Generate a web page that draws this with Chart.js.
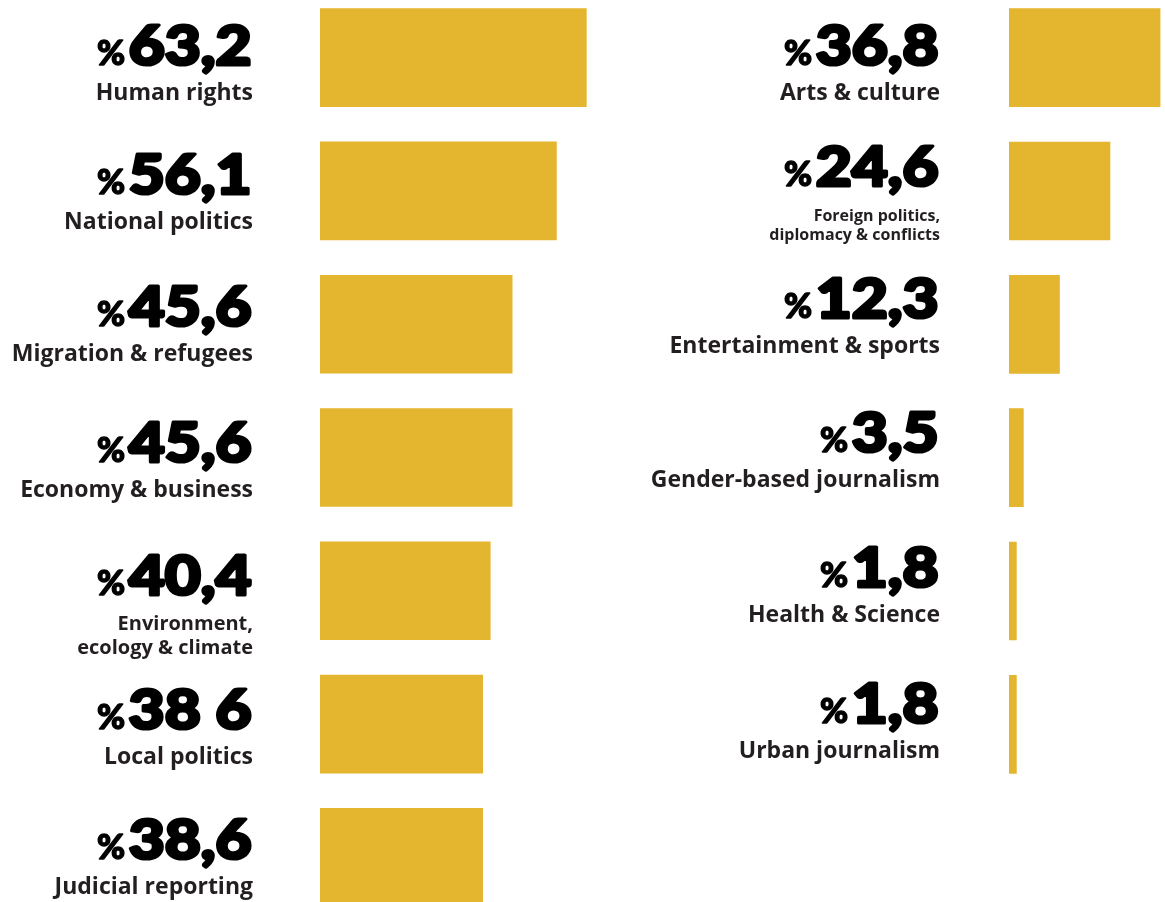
<!DOCTYPE html>
<html>
<head>
<meta charset="utf-8">
<title>Topics</title>
<script src="https://cdn.jsdelivr.net/npm/chart.js@4.4.1/dist/chart.umd.min.js"></script>
<style>
  html, body { margin: 0; padding: 0; background: #fff; overflow: hidden; }
  body { width: 1165px; height: 902px; position: relative; }
  .col { position: absolute; top: -9px; }
  #leftBox { left: 0; width: 615px; height: 933px; }
  #rightBox { left: 620px; width: 545px; height: 800px; }
</style>
</head>
<body>
<div class="col" id="leftBox"><canvas id="leftChart"></canvas></div>
<div class="col" id="rightBox"><canvas id="rightChart"></canvas></div>

<script>
// ===== DATA =====

const leftTopics = [
    'Human rights',
    'National politics',
    'Migration & refugees',
    'Economy & business',
    ['Environment,', 'ecology & climate'],
    'Local politics',
    'Judicial reporting'
];
const leftValues = [63.2, 56.1, 45.6, 45.6, 40.4, 38.6, 38.6];
const leftFigures = ['63,2', '56,1', '45,6', '45,6', '40,4', '38 6', '38,6'];

const rightTopics = [
    'Arts & culture',
    ['Foreign politics,', 'diplomacy & conflicts'],
    'Entertainment & sports',
    'Gender-based journalism',
    'Health & Science',
    'Urban journalism'
];
const rightValues = [36.8, 24.6, 12.3, 3.5, 1.8, 1.8];
const rightFigures = ['36,8', '24,6', '12,3', '3,5', '1,8', '1,8'];

// ===== STYLE =====

const BAR_COLOR = '#e4b52e';
const NUM_FONT = 'Lato, Inter, sans-serif';
const NAME_FONT = '"Open Sans", "Noto Sans", sans-serif';
const NUM_STRETCH = 1.13;

// fill + stroke so the figures come out extra heavy
function heavyText(ctx, text, x, y, weight) {
    ctx.lineWidth = weight;
    ctx.lineJoin = 'round';
    ctx.strokeText(text, x, y);
    ctx.fillText(text, x, y);
}

// big "%63,2" figure with the topic name underneath, right aligned next to each bar
const figureLabels = {
    id: 'figureLabels',
    afterDatasetsDraw(chart, args, opts) {
        const ctx = chart.ctx;
        const right = chart.chartArea.left - opts.gap;
        const meta = chart.getDatasetMeta(0);

        ctx.save();
        ctx.textAlign = 'right';
        ctx.textBaseline = 'alphabetic';

        meta.data.forEach((bar, i) => {
            const base = bar.y + opts.shift[i];

            // number, widened
            ctx.fillStyle = '#000';
            ctx.strokeStyle = '#000';
            ctx.font = '900 55px ' + NUM_FONT;
            const fig = opts.figures[i];
            ctx.save();
            ctx.translate(right - 1.5, base);
            ctx.scale(NUM_STRETCH, 1);
            heavyText(ctx, fig, 0, 0, 3.2);
            ctx.restore();
            const w = ctx.measureText(fig).width * NUM_STRETCH + 3;

            // small percent sign in front
            ctx.font = '900 34px ' + NUM_FONT;
            heavyText(ctx, '%', right - w - 2, base, 1.4);

            // topic name (one or two lines)
            let lines = chart.data.labels[i];
            if (!Array.isArray(lines)) lines = [lines];
            const size = opts.nameSize[i];
            ctx.fillStyle = '#231f20';
            ctx.font = '700 ' + size + 'px ' + NAME_FONT;
            lines.forEach((line, k) => {
                ctx.fillText(line, right, base + 35 + k * Math.round(size * 1.2));
            });
        });

        ctx.restore();
    }
};

function makeChart(id, topics, values, figures, padLeft, xMax, labelOpts) {
    return new Chart(document.getElementById(id), {
        type: 'bar',
        data: {
            labels: topics,
            datasets: [{
                data: values,
                backgroundColor: BAR_COLOR,
                borderWidth: 0,
                barThickness: 98
            }]
        },
        options: {
            indexAxis: 'y',
            responsive: true,
            maintainAspectRatio: false,
            animation: false,
            layout: {
                padding: { left: padLeft, right: 0, top: 0, bottom: 0 }
            },
            plugins: {
                legend: { display: false },
                tooltip: { enabled: false },
                figureLabels: Object.assign({ figures: figures }, labelOpts)
            },
            scales: {
                x: { display: false, min: 0, max: xMax },
                y: { display: false }
            }
        },
        plugins: [figureLabels]
    });
}

// ===== CHARTS =====

makeChart('leftChart', leftTopics, leftValues, leftFigures, 320, 70, {
    gap: 67,
    shift: [7, 3, 2, 4, 4, 5, 2],
    nameSize: [23, 23, 23, 23, 20, 23, 23]
});

makeChart('rightChart', rightTopics, rightValues, rightFigures, 389, 38, {
    gap: 69,
    shift: [7, -5, -6, -6, -4, -1],
    nameSize: [23, 16, 23, 23, 23, 23]
});
</script>
</body>
</html>
